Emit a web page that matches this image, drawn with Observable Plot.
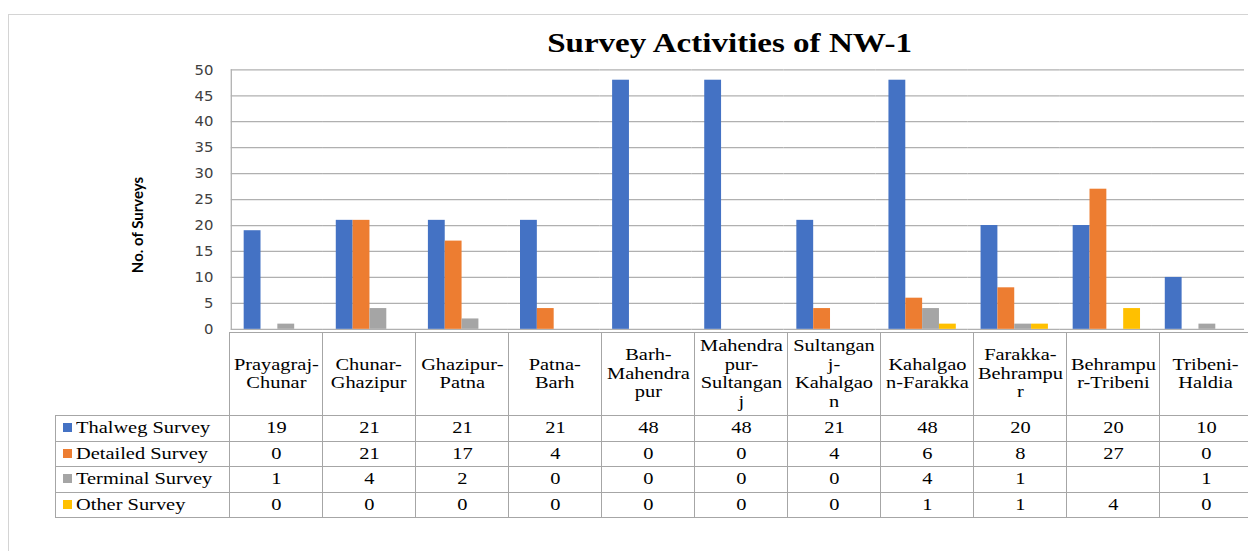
<!DOCTYPE html>
<html><head><meta charset="utf-8">
<script src="https://cdn.jsdelivr.net/npm/d3@7"></script>
<script src="https://cdn.jsdelivr.net/npm/@observablehq/plot@0.6"></script>
<style>
html,body{margin:0;padding:0;background:#fff;}
#wrap{position:relative;width:1248px;height:551px;overflow:hidden;background:#fff;}
#frame{position:absolute;left:8px;top:14px;width:1300px;height:600px;border:1px solid #d4d4d4;box-sizing:border-box;}
#title{position:absolute;left:0;top:27px;width:1460px;text-align:center;font-family:"Liberation Serif","Times New Roman",serif;font-weight:bold;font-size:28px;color:#000;}
#title span{display:inline-block;transform:scaleX(1.18);}
#ylab{position:absolute;left:37px;top:216px;width:200px;height:18px;line-height:18px;text-align:center;font-family:Lato,sans-serif;font-weight:bold;font-size:15px;color:#000;transform:rotate(-90deg);}
#chart{position:absolute;left:0;top:0;}
#chart [aria-label="y-axis tick label"]{font:15px "DejaVu Sans",sans-serif;color:#404040;}
#tbl{position:absolute;top:332px;left:55px;border-collapse:collapse;table-layout:fixed;}
#tbl td{border:1px solid #a6a6a6;padding:0;text-align:center;vertical-align:middle;height:24.5px;line-height:18px;font-family:"Liberation Serif","Times New Roman",serif;font-size:17px;color:#000;}
#tbl td span.t{display:inline-block;transform:scaleX(1.2);transform-origin:50% 50%;}
#tbl td.hdr{height:82px;white-space:pre;line-height:18.5px;}
#tbl td.blank{border:none;}
#tbl td.leg{text-align:left;padding-left:7px;white-space:nowrap;}
#tbl td.leg span.t{transform-origin:0 50%;}
#tbl .sw{display:inline-block;width:9px;height:9px;margin-right:4px;vertical-align:1px;}
</style></head>
<body>
<div id="wrap">
  <div id="frame"></div>
  <div id="chart"></div>
  <div id="title"><span>Survey Activities of NW-1</span></div>
  <div id="ylab">No. of Surveys</div>
  <table id="tbl"></table>
</div>
<script>
const categories = ["Prayagraj-Chunar","Chunar-Ghazipur","Ghazipur-Patna","Patna-Barh","Barh-Mahendrapur","Mahendrapur-Sultanganj","Sultanganj-Kahalgaon","Kahalgaon-Farakka","Farakka-Behrampur","Behrampur-Tribeni","Tribeni-Haldia"];
const headerLabels = ["Prayagraj-\nChunar","Chunar-\nGhazipur","Ghazipur-\nPatna","Patna-\nBarh","Barh-\nMahendra\npur","Mahendra\npur-\nSultangan\nj","Sultangan\nj-\nKahalgao\nn","Kahalgao\nn-Farakka","Farakka-\nBehrampu\nr","Behrampu\nr-Tribeni","Tribeni-\nHaldia"];
const seriesNames = ["Thalweg Survey","Detailed Survey","Terminal Survey","Other Survey"];
const thalweg  = [19,21,21,21,48,48,21,48,20,20,10];
const detailed = [0,21,17,4,0,0,4,6,8,27,0];
const terminal = [1,4,2,0,0,0,0,4,1,null,1];
const other    = [0,0,0,0,0,0,0,1,1,4,0];
const seriesColors = ["#4472C4","#ED7D31","#A5A5A5","#FFC000"];
const yTicks = [0,5,10,15,20,25,30,35,40,45,50];

const seriesValues = [thalweg, detailed, terminal, other];
const rows = categories.flatMap((c, i) => seriesNames.map((s, j) => ({category: c, series: s, value: seriesValues[j][i]})))
  .filter(d => d.value != null);

const chart = Plot.plot({
  width: 1260, height: 340,
  marginLeft: 229, marginRight: 0, marginTop: 70, marginBottom: 8,
  style: {background: "transparent", overflow: "visible"},
  fx: {domain: categories, padding: 0, axis: null},
  x: {domain: seriesNames, axis: null, paddingInner: 0, paddingOuter: 0.72},
  y: {domain: [0, 50]},
  color: {domain: seriesNames, range: seriesColors},
  marks: [
    Plot.ruleY(yTicks, {stroke: "#b0b0b0", strokeWidth: 1.3}),
    Plot.frame({anchor: "left", facet: "super", stroke: "#b0b0b0", strokeWidth: 1.3}),
    Plot.barY(rows, {fx: "category", x: "series", y: "value", fill: "series"}),
    Plot.axisY({ticks: yTicks, tickSize: 0, tickPadding: 18, label: null})
  ]
});
document.getElementById("chart").appendChild(chart);

// data table aligned with the chart's fx scale
const fx = chart.scale("fx");
const bw = fx.bandwidth;
const tbl = d3.select("#tbl");
tbl.style("width", (174 + bw * categories.length) + "px");
const cg = tbl.append("colgroup");
cg.append("col").style("width", "174px");
categories.forEach(() => cg.append("col").style("width", bw + "px"));
const hr = tbl.append("tr");
hr.append("td").attr("class", "blank");
headerLabels.forEach(l => hr.append("td").attr("class", "hdr").append("span").attr("class", "t").text(l));
seriesNames.forEach((s, j) => {
  const tr = tbl.append("tr");
  const lc = tr.append("td").attr("class", "leg");
  lc.append("span").attr("class", "sw").style("background", seriesColors[j]);
  lc.append("span").attr("class", "t").text(s);
  categories.forEach((c, i) => tr.append("td").append("span").attr("class", "t").text(seriesValues[j][i] == null ? "" : seriesValues[j][i]));
});
</script>
</body></html>
